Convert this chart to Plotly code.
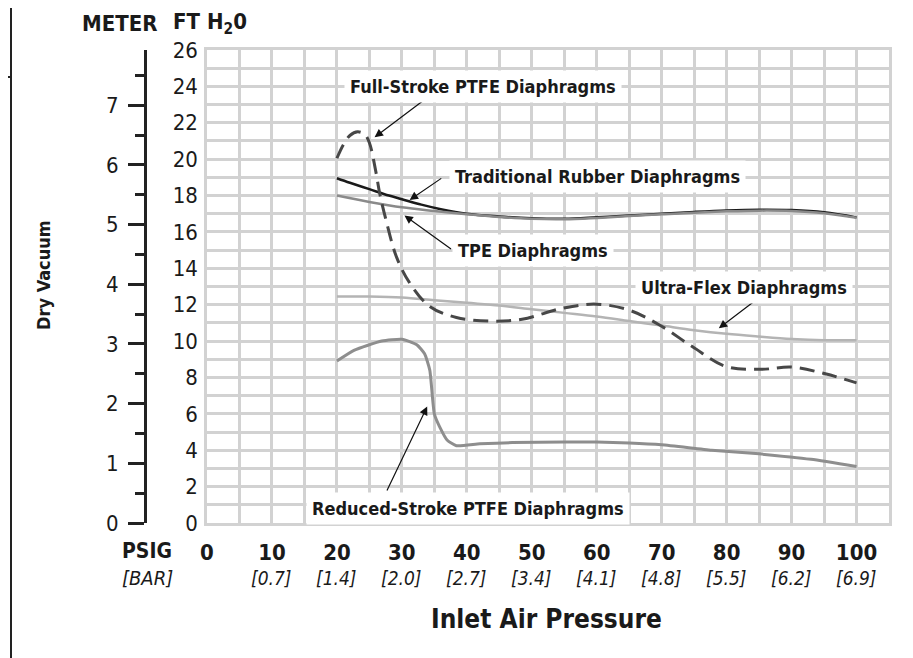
import plotly.graph_objects as go

# ---------------- data ----------------
trad_x = [20, 22, 25, 28, 30, 33, 36, 40, 45, 50, 55, 60, 65, 70, 75, 80, 85, 90, 95, 100]
trad_y = [18.95, 18.7, 18.35, 18.0, 17.8, 17.5, 17.25, 17.0, 16.85, 16.75, 16.72, 16.8, 16.9, 17.0, 17.1, 17.18, 17.22, 17.2, 17.08, 16.8]

tpe_x = [20, 25, 30, 35, 40, 45, 50, 55, 60, 65, 70, 75, 80, 85, 90, 95, 100]
tpe_y = [18.0, 17.65, 17.35, 17.15, 16.97, 16.82, 16.72, 16.7, 16.77, 16.87, 16.97, 17.06, 17.13, 17.17, 17.15, 17.03, 16.78]

full_x = [20, 21, 22, 23.2, 24.3, 25, 26, 26.6, 27.6, 29.2, 31.2, 34.3, 38.4, 43.5, 48.5, 54.7, 59.9, 65, 69.6, 74.7, 79.9, 85.4, 90, 95.2, 100]
full_y = [20.05, 20.8, 21.3, 21.5, 21.35, 20.9, 19.3, 18.1, 16.6, 14.6, 13.2, 11.9, 11.3, 11.1, 11.2, 11.8, 12.03, 11.7, 10.9, 9.7, 8.6, 8.45, 8.57, 8.2, 7.7]

ultra_x = [20, 25, 30, 35, 40, 45, 50, 55, 60, 65, 70, 75, 80, 85, 90, 95, 100]
ultra_y = [12.45, 12.45, 12.4, 12.25, 12.1, 11.95, 11.75, 11.55, 11.35, 11.1, 10.85, 10.6, 10.4, 10.25, 10.12, 10.05, 10.05]

red_x = [20, 22.7, 26.9, 30, 32.3, 33.5, 34.3, 35, 35.8, 37, 38.4, 42, 47, 55, 60, 65, 70, 77.7, 85, 93, 100]
red_y = [8.9, 9.5, 10.0, 10.1, 9.8, 9.3, 8.4, 6.0, 5.3, 4.55, 4.25, 4.35, 4.42, 4.45, 4.45, 4.4, 4.3, 4.0, 3.8, 3.5, 3.1]

psig_vals = [0, 10, 20, 30, 40, 50, 60, 70, 80, 90, 100]
psig_text = ["0", "10", "20", "30", "40", "50", "60", "70", "80", "90", "100"]
bar_vals = [10, 20, 30, 40, 50, 60, 70, 80, 90, 100]
bar_text = ["[0.7]", "[1.4]", "[2.0]", "[2.7]", "[3.4]", "[4.1]", "[4.8]", "[5.5]", "[6.2]", "[6.9]"]
ft_vals = list(range(0, 27, 2))
meter_vals = [0, 1, 2, 3, 4, 5, 6, 7]

labels = [
    # text, text x, text y, arrow tail x, tail y, tip x, tip y
    ("Full-Stroke PTFE Diaphragms", 42.5, 24.0, 33.8, 23.35, 25.8, 21.2),
    ("Traditional Rubber Diaphragms", 60.1, 19.07, 36.3, 19.0, 31.2, 17.75),
    ("TPE Diaphragms", 50.2, 15.0, 37.8, 15.0, 30.4, 16.9),
    ("Ultra-Flex Diaphragms", 82.6, 12.97, 84.9, 12.36, 78.8, 10.7),
    ("Reduced-Stroke PTFE Diaphragms", 40.2, 0.82, 27.6, 1.7, 33.9, 6.4),
]

# ---------------- layout geometry ----------------
OFF = 8                      # page body margin
W, H = 913 - OFF, 658 - OFF
ML, MR, MT, MB = 137, 24, 42, 135
PW = W - ML - MR
PH = H - MT - MB


def px(xp):
    """page pixel x -> paper"""
    return (xp - OFF - ML) / PW


def py(yp):
    """page pixel y -> paper"""
    return (H - MB - (yp - OFF)) / PH


FONT = "DejaVu Sans Condensed, DejaVu Sans, sans-serif"
GRID = "#d2d2d2"
INK = "#1a1a1a"

fig = go.Figure()

fig.add_trace(go.Scatter(x=ultra_x, y=ultra_y, mode="lines",
                         line=dict(color="#b4b4b4", width=2.5, shape="spline"), hoverinfo="skip"))
fig.add_trace(go.Scatter(x=red_x, y=red_y, mode="lines",
                         line=dict(color="#8e8e8e", width=3, shape="spline", smoothing=0.5), hoverinfo="skip"))
fig.add_trace(go.Scatter(x=trad_x, y=trad_y, mode="lines",
                         line=dict(color="#1a1a1a", width=2.5, shape="spline"), hoverinfo="skip"))
fig.add_trace(go.Scatter(x=tpe_x, y=tpe_y, mode="lines",
                         line=dict(color="#8a8a8a", width=2.5, shape="spline"), hoverinfo="skip"))
fig.add_trace(go.Scatter(x=full_x, y=full_y, mode="lines",
                         line=dict(color="#474747", width=3, shape="spline", dash="15px,8px"), hoverinfo="skip"))
# invisible trace to activate the meter axis
fig.add_trace(go.Scatter(x=[None], y=[None], yaxis="y2", showlegend=False, hoverinfo="skip"))

annotations = []
for text, tx, ty, ax, ay, hx, hy in labels:
    annotations.append(dict(x=hx, y=hy, ax=ax, ay=ay, xref="x", yref="y", axref="x", ayref="y",
                            text="", showarrow=True, arrowhead=2, arrowsize=1.4, arrowwidth=1.2,
                            arrowcolor="#111"))
    annotations.append(dict(x=tx, y=ty, xref="x", yref="y", text="<b>%s</b>" % text, showarrow=False,
                            xanchor="center", yanchor="middle",
                            font=dict(family=FONT, size=18, color=INK),
                            bgcolor="white", borderpad=5))


def page_text(text, xp, yp, size, angle=0, xref="paper"):
    annotations.append(dict(x=xp, y=py(yp), xref=xref, yref="paper", text=text, showarrow=False,
                            xanchor="center", yanchor="middle", textangle=angle,
                            font=dict(family=FONT, size=size, color=INK)))


page_text("<b>METER</b>", px(120), 23, 22)
page_text("<b>FT H<sub>2</sub>0</b>", px(210), 23, 22)
page_text("<b>Dry Vacuum</b>", px(43), 275, 18, angle=-90)
page_text("<b>PSIG</b>", px(147), 551, 21)
page_text("<i>[BAR]</i>", px(147), 578, 20)
for bv, bt in zip(bar_vals, bar_text):
    page_text("<i>%s</i>" % bt, bv, 578, 19, xref="x")
page_text("<b>Inlet Air Pressure</b>", px(546), 619, 26)

shapes = [
    dict(type="line", xref="paper", yref="paper", x0=px(11), x1=px(11), y0=py(0), y1=py(658),
         line=dict(color="#222", width=2)),
    dict(type="line", xref="paper", yref="paper", x0=px(0), x1=px(11), y0=py(77), y1=py(77),
         line=dict(color="#222", width=2)),
]

fig.update_layout(
    width=W, height=H,
    margin=dict(l=ML, r=MR, t=MT, b=MB, pad=0),
    paper_bgcolor="white", plot_bgcolor="white",
    showlegend=False,
    font=dict(family=FONT, color=INK),
    xaxis=dict(domain=[px(207), 1], range=[0, 105], tickmode="array", tickvals=psig_vals,
               ticktext=psig_text, tickfont=dict(family=FONT, size=22, weight="bold", color=INK),
               showgrid=True, gridcolor=GRID, gridwidth=2.5,
               minor=dict(tickmode="linear", tick0=0, dtick=5, showgrid=True, gridcolor=GRID, gridwidth=2.5),
               showline=True, linecolor=GRID, linewidth=2.5, mirror=True, zeroline=False,
               ticks="", ticklabelstandoff=8),
    yaxis=dict(range=[0, 26], tickmode="array", tickvals=ft_vals,
               tickfont=dict(family=FONT, size=22, color=INK),
               showgrid=True, gridcolor=GRID, gridwidth=2.5,
               minor=dict(tickmode="linear", tick0=0, dtick=1, showgrid=True, gridcolor=GRID, gridwidth=2.5),
               showline=True, linecolor=GRID, linewidth=2.5, mirror=True, zeroline=False,
               ticks="", ticklabelstandoff=2),
    yaxis2=dict(overlaying="y", anchor="free", position=0, side="left", range=[0, 26 * 0.3048],
                tickmode="array", tickvals=meter_vals, tickfont=dict(family=FONT, size=22, color=INK),
                showgrid=False, zeroline=False, showline=True, linecolor="#222", linewidth=3,
                ticks="outside", ticklen=16, tickwidth=3, tickcolor="#222", ticklabelstandoff=5,
                minor=dict(tickmode="linear", tick0=0.5, dtick=1, ticks="outside", ticklen=9,
                           tickwidth=3, tickcolor="#222", showgrid=False)),
    annotations=annotations,
    shapes=shapes,
)

fig.write_html("out.html")
